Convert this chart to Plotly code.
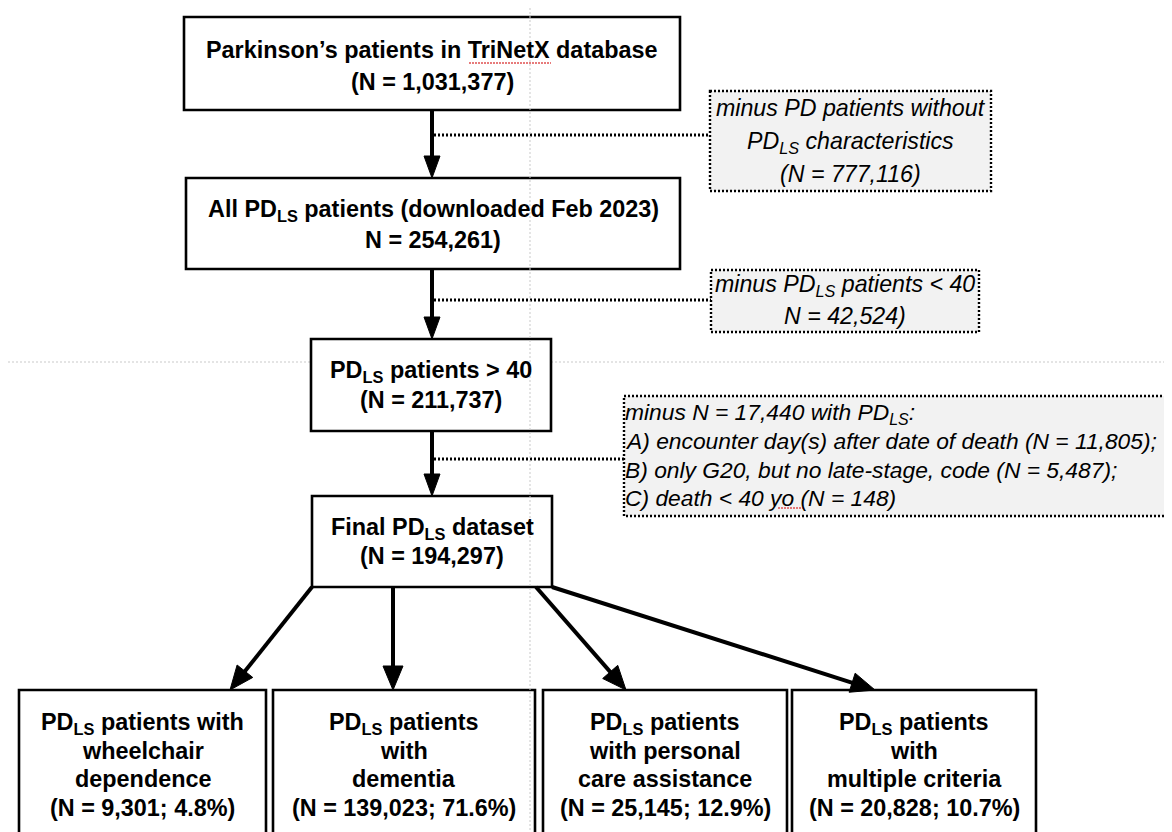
import math
import plotly.graph_objects as go

W, H = 1172, 832

# ---------------- data (text content) ----------------
main_titles = [
    "Parkinson’s patients in TriNetX database",
    "All PD<sub>LS</sub> patients (downloaded Feb 2023)",
    "PD<sub>LS</sub> patients &gt; 40",
    "Final PD<sub>LS</sub> dataset",
]
main_counts = ["(N = 1,031,377)", "N = 254,261)", "(N = 211,737)", "(N = 194,297)"]

excl_lines = [
    ["minus PD patients without", "PD<sub>LS</sub> characteristics", "(N = 777,116)"],
    ["minus PD<sub>LS</sub> patients &lt; 40", "N = 42,524)"],
    ["minus N = 17,440 with PD<sub>LS</sub>:",
     "A) encounter day(s) after date of death (N = 11,805);",
     "B) only G20, but no late-stage, code (N = 5,487);",
     "C) death &lt; 40 yo (N = 148)"],
]

sub_labels = [
    ["PD<sub>LS</sub> patients with", "wheelchair", "dependence"],
    ["PD<sub>LS</sub> patients", "with", "dementia"],
    ["PD<sub>LS</sub> patients", "with personal", "care assistance"],
    ["PD<sub>LS</sub> patients", "with", "multiple criteria"],
]
sub_counts = ["9,301", "139,023", "25,145", "20,828"]
sub_pcts = ["4.8", "71.6", "12.9", "10.7"]

# ---------------- layout geometry ----------------
main_boxes = [(176, 672, 9, 102), (178, 672, 170, 261), (303, 543, 331, 423), (304, 544, 488, 579)]
main_line_y = [(42, 74), (202, 232), (363, 392), (520, 548)]
main_x = 424

excl_boxes = [(702, 983, 83, 183), (703, 971, 262, 324), (616, 1170, 388, 508)]
excl_line_y = [(100, 134, 166), (277, 308), (405, 433, 462, 490)]
excl_align = ["center", "center", "left"]
excl_fs = [23.2, 23.2, 22.8]
conn_y = [127, 292, 451]

bot_boxes = [(11, 258), (265, 527), (535, 779), (784, 1028)]
bot_top, bot_bot = 682, 830
bot_line_y = [715, 743, 771, 800]
bot_start = [(304, 579), (385, 579), (528, 579), (544, 579)]
bot_tip_x = [222, 385, 618, 867]

FONT = "Liberation Sans, Arial, sans-serif"
FS = 23.4

fig = go.Figure()
shapes = []
annots = []


def rect(x0, x1, y0, y1, dash="solid", width=2.6, fill="white"):
    shapes.append(dict(type="rect", xref="x", yref="y", x0=x0, x1=x1, y0=y0, y1=y1,
                       line=dict(color="black", width=width, dash=dash), fillcolor=fill,
                       layer="above"))


def line(x0, y0, x1, y1, color="black", width=4, dash="solid"):
    shapes.append(dict(type="line", xref="x", yref="y", x0=x0, y0=y0, x1=x1, y1=y1,
                       line=dict(color=color, width=width, dash=dash), layer="above"))


def arrow(x0, y0, x1, y1, hl=22, hw=8, width=4):
    dx, dy = x1 - x0, y1 - y0
    L = math.hypot(dx, dy)
    ux, uy = dx / L, dy / L
    bx, by = x1 - ux * hl, y1 - uy * hl
    line(x0, y0, bx + ux * 2, by + uy * 2, width=width)
    px, py = -uy, ux
    p = (f"M {x1},{y1} L {bx + px * hw},{by + py * hw} "
         f"L {bx - px * hw},{by - py * hw} Z")
    shapes.append(dict(type="path", xref="x", yref="y", path=p, fillcolor="black",
                       line=dict(color="black", width=1), layer="above"))


def text(x, y, s, anchor="center", bold=False, italic=False, size=FS):
    if bold:
        s = f"<b>{s}</b>"
    if italic:
        s = f"<i>{s}</i>"
    annots.append(dict(x=x, y=y, xref="x", yref="y", text=s, showarrow=False,
                       xanchor=anchor, yanchor="middle", borderpad=0, borderwidth=0,
                       font=dict(family=FONT, size=size, color="black")))


# guides (light gray dotted, PowerPoint style)
line(0, 354, 303, 354, color="#c9c9c9", width=1, dash="2px,2px")
line(543, 354, W, 354, color="#c9c9c9", width=1, dash="2px,2px")

# main boxes
for (x0, x1, y0, y1), t, c, (ly1, ly2) in zip(main_boxes, main_titles, main_counts, main_line_y):
    rect(x0, x1, y0, y1)
    cx = (x0 + x1) / 2
    text(cx, ly1, t, bold=True)
    text(cx, ly2, c, bold=True)

# vertical arrows between main boxes
for i in range(3):
    arrow(main_x, main_boxes[i][3], main_x, main_boxes[i + 1][2])

# exclusion boxes + connectors
for (x0, x1, y0, y1), lines, ys, al, cy, fs in zip(excl_boxes, excl_lines, excl_line_y,
                                                   excl_align, conn_y, excl_fs):
    line(main_x + 2, cy, x0, cy, width=3, dash="2px,2px")
    rect(x0, x1, y0, y1, dash="2px,2px", width=2.4, fill="#f2f2f2")
    for s, y in zip(lines, ys):
        if al == "center":
            text((x0 + x1) / 2, y, s, italic=True, size=fs)
        else:
            text(x0 + 1, y, s, anchor="left", italic=True, size=fs)

# bottom boxes
for (x0, x1), labs, n, p in zip(bot_boxes, sub_labels, sub_counts, sub_pcts):
    rect(x0, x1, bot_top, bot_bot)
    cx = (x0 + x1) / 2
    for s, y in zip(labs + [f"(N = {n}; {p}%)"], bot_line_y):
        text(cx, y, s, bold=True)

# diverging arrows
for (sx, sy), tx in zip(bot_start, bot_tip_x):
    arrow(sx, sy, tx, bot_top, hl=24, hw=10)

# vertical guide drawn over everything
line(522, 0, 522, H, color="#c9c9c9", width=1, dash="2px,2px")

# spell-check squiggles
line(461, 55, 543, 55, color="#e05050", width=1.5, dash="2px,1px")
line(770, 500, 795, 500, color="#e05050", width=1.5, dash="2px,1px")

fig.update_layout(
    width=W, height=H, margin=dict(l=0, r=0, t=0, b=0),
    paper_bgcolor="white", plot_bgcolor="white",
    xaxis=dict(range=[0, W], visible=False, fixedrange=True),
    yaxis=dict(range=[H, 0], visible=False, fixedrange=True),
    shapes=shapes, annotations=annots, showlegend=False,
)
fig.write_html("out.html")
